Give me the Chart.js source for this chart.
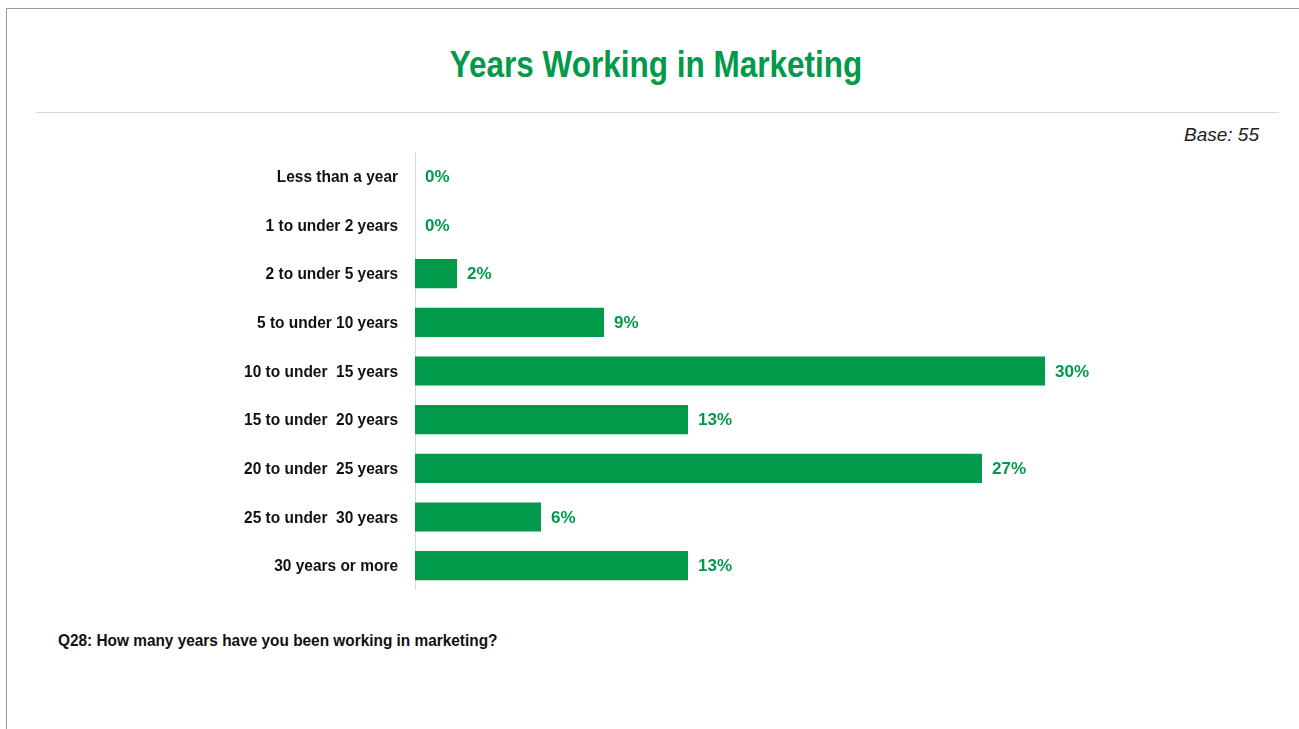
<!DOCTYPE html>
<html>
<head>
<meta charset="utf-8">
<script src="https://cdn.jsdelivr.net/npm/chart.js@4"></script>
<style>
  html, body { margin: 0; padding: 0; background: #fff; }
  body { width: 1299px; height: 729px; position: relative; overflow: hidden; }
  .frame { position: absolute; left: 6px; top: 8px; right: -2px; bottom: -2px; border-left: 1px solid #9a9a9a; border-top: 1px solid #9a9a9a; }
  .title { position: absolute; left: 0; width: 1312px; top: 44px; text-align: center; font-family: "Liberation Sans", Arial, sans-serif; font-weight: bold; font-size: 36px; color: #009A4A; transform: scaleX(0.875); transform-origin: 656px 0; }
  .rule { position: absolute; left: 36px; width: 1243px; top: 112px; height: 1px; background: #d9d9d9; }
  .base { position: absolute; right: 40px; top: 124px; font-family: "Liberation Sans", Arial, sans-serif; font-style: italic; font-size: 19px; color: #222; }
  .question { position: absolute; left: 58px; top: 631px; font-family: "Liberation Sans", Arial, sans-serif; font-weight: bold; font-size: 17px; color: #111; white-space: nowrap; transform: scaleX(0.905); transform-origin: 0 0; }
  .chart-box { position: absolute; left: 0; top: 152px; width: 1299px; height: 438px; }
  canvas { display: block; }
</style>
</head>
<body>
<div class="frame"></div>
<div class="title">Years Working in Marketing</div>
<div class="rule"></div>
<div class="base">Base: 55</div>
<div class="question">Q28: How many years have you been working in marketing?</div>
<div class="chart-box"><canvas id="chart" width="1299" height="438"></canvas></div>
<script>
// Tenure bands and share of respondents (%)
const categories = [
  "Less than a year",
  "1 to under 2 years",
  "2 to under 5 years",
  "5 to under 10 years",
  "10 to under  15 years",
  "15 to under  20 years",
  "20 to under  25 years",
  "25 to under  30 years",
  "30 years or more"
];
const shares = [0, 0, 2, 9, 30, 13, 27, 6, 13];

const GREEN = "#009A4A";
const FONT = '"Liberation Sans", Arial, sans-serif';

// Category names, right-aligned left of the axis in a condensed setting
const categoryLabels = {
  id: "categoryLabels",
  afterDraw(chart) {
    const ctx = chart.ctx;
    const y = chart.scales.y;
    ctx.save();
    ctx.font = "bold 17px " + FONT;
    ctx.fillStyle = "#111";
    ctx.textAlign = "right";
    ctx.textBaseline = "middle";
    categories.forEach((name, i) => {
      ctx.save();
      ctx.translate(398, y.getPixelForTick(i) + 1);
      ctx.scale(0.91, 1);
      ctx.fillText(name, 0, 0);
      ctx.restore();
    });
    ctx.restore();
  }
};

// Writes the percentage just past the end of each bar
const valueLabels = {
  id: "valueLabels",
  afterDatasetsDraw(chart) {
    const ctx = chart.ctx;
    const meta = chart.getDatasetMeta(0);
    ctx.save();
    ctx.font = "bold 17px " + FONT;
    ctx.fillStyle = GREEN;
    ctx.textAlign = "left";
    ctx.textBaseline = "middle";
    meta.data.forEach((bar, i) => {
      const x = Math.max(bar.x, bar.base) + 10;
      ctx.fillText(shares[i] + "%", x, bar.y + 1);
    });
    ctx.restore();
  }
};

new Chart(document.getElementById("chart"), {
  type: "bar",
  data: {
    labels: categories,
    datasets: [{
      data: shares,
      backgroundColor: GREEN,
      borderWidth: 0,
      barPercentage: 0.6,
      categoryPercentage: 1.0
    }]
  },
  options: {
    indexAxis: "y",
    responsive: false,
    animation: false,
    layout: { padding: { left: 0, right: 44, top: 0, bottom: 0 } },
    plugins: {
      legend: { display: false },
      tooltip: { enabled: false },
      title: { display: false }
    },
    scales: {
      x: {
        display: false,
        min: 0,
        max: 40
      },
      y: {
        afterFit(scale) { scale.width = 415; },
        grid: { display: false, drawTicks: false },
        border: { display: true, color: "#d9d9d9", width: 1 },
        ticks: { display: false }
      }
    }
  },
  plugins: [valueLabels, categoryLabels]
});
</script>
</body>
</html>
